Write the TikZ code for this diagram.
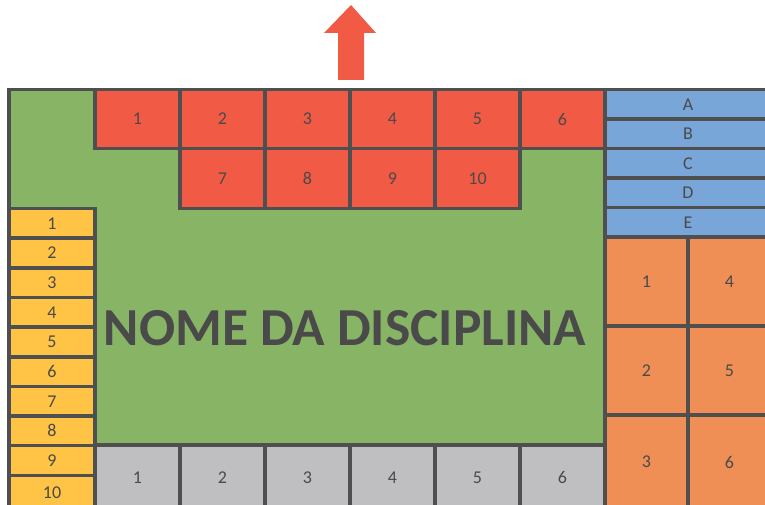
\documentclass[tikz,border=0pt]{standalone}
\usepackage{fontspec}
\setmainfont{Carlito}
\definecolor{bordc}{HTML}{4F4F4F}
\definecolor{txtc}{HTML}{4A4A4A}
\definecolor{redc}{HTML}{F15A45}
\definecolor{greenc}{HTML}{87B465}
\definecolor{bluec}{HTML}{78A6D8}
\definecolor{orangec}{HTML}{EF8F56}
\definecolor{yellowc}{HTML}{FFC445}
\definecolor{grayc}{HTML}{BFBFC1}
\tikzset{
  cell/.style={draw=bordc, line width=3.5pt, rectangle, inner sep=0pt, outer sep=0pt, text=txtc, font=\fontsize{18}{18}\selectfont},
  redcell/.style={cell, fill=redc, minimum width=85pt},
  bluecell/.style={cell, fill=bluec, minimum width=166pt, minimum height=29.5pt},
  orangecell/.style={cell, fill=orangec, minimum width=83pt, minimum height=89pt},
  yellowcell/.style={cell, fill=yellowc, minimum width=86pt, minimum height=29.65pt},
  graycell/.style={cell, fill=grayc, minimum width=85pt, minimum height=70pt},
}
\begin{document}
\begin{tikzpicture}[x=1pt,y=1pt]
\useasboundingbox (0,0) rectangle (765,-505);
\clip (0,0) rectangle (765,-505);
% arrow
\fill[redc] (351,-5) -- (376,-33) -- (364,-33) -- (364,-80) -- (338,-80) -- (338,-33) -- (324,-33) -- cycle;
% green area
\node[cell, fill=greenc, minimum width=596pt, minimum height=355.5pt] (green) at (307,-267.25) {};
\node[text=txtc, font=\fontsize{53.5}{53.5}\selectfont\bfseries] (title) at (345,-328) {NOME DA DISCIPLINA};
% red top row
\foreach \i in {1,...,6} {
  \node[redcell, minimum height=59pt] (r\i) at ({137.5+85*(\i-1)},-119) {\i};
}
\foreach \i/\l in {1/7,2/8,3/9,4/10} {
  \node[redcell, minimum height=60pt] (s\i) at ({222.5+85*(\i-1)},-178.5) {\l};
}
% blue
\foreach \l [count=\i] in {A,B,C,D,E} {
  \node[bluecell] (b\i) at (688,{-104.25-29.5*(\i-1)}) {\l};
}
% orange
\foreach \i in {1,2} {
  \node[orangecell] (oa\i) at (646.5,{-281.5-89*(\i-1)}) {\i};
  \pgfmathtruncatemacro{\j}{\i+3}
  \node[orangecell] (ob\i) at (729.5,{-281.5-89*(\i-1)}) {\j};
}
\node[orangecell, minimum height=99pt] (oa3) at (646.5,-464.5) {\raisebox{5pt}{3}};
\node[orangecell, minimum height=99pt] (ob3) at (729.5,-464.5) {\raisebox{5pt}{6}};
% yellow
\foreach \i in {1,...,9} {
  \node[yellowcell] (y\i) at (52,{-223.325-29.65*(\i-1)}) {\i};
}
\node[yellowcell, minimum height=39.65pt] (y10) at (52,-495.2) {\raisebox{4.5pt}{10}};
% gray
\foreach \i in {1,...,6} {
  \node[graycell] (g\i) at ({137.5+85*(\i-1)},-480) {\raisebox{5pt}{\i}};
}
\end{tikzpicture}
\end{document}
